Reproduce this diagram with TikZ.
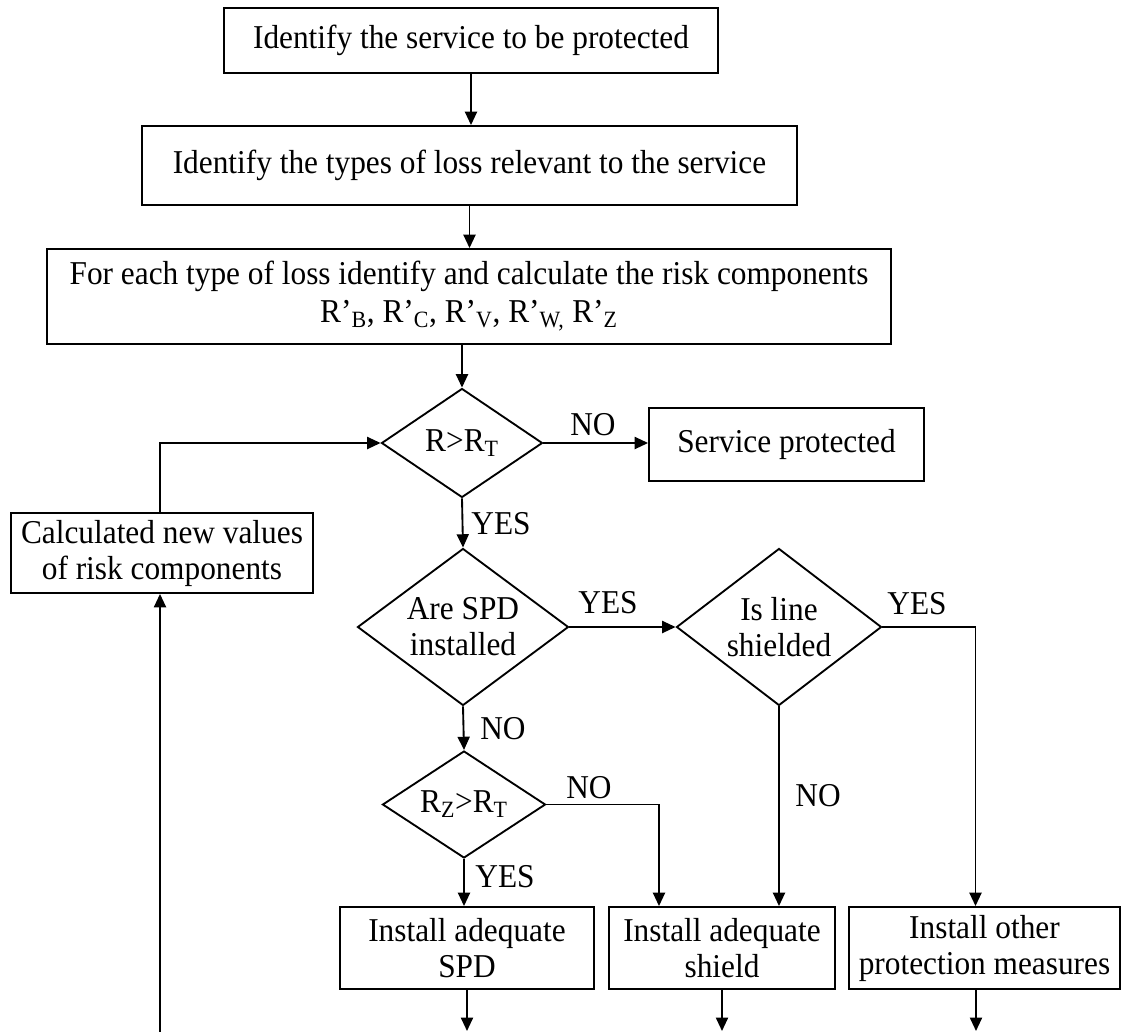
\documentclass[tikz,border=0pt]{standalone}
\usepackage{fontspec}
\setmainfont{Liberation Serif}[FakeStretch=0.94]
\usetikzlibrary{shapes.geometric,arrows.meta,calc}

\def\pxu{0.75pt}

\begin{document}
\begin{tikzpicture}[x=0.75pt,y=-0.75pt,
    every node/.style={font=\fontsize{25}{27}\selectfont},
    box/.style={draw,line width=1.4pt,rectangle,inner sep=0pt,align=center},
    dec/.style={draw,line width=1.4pt,diamond,aspect=1.6,inner sep=0pt,align=center},
    lbl/.style={inner sep=0pt},
    flow/.style={line width=1.4pt,-{Triangle[length=10pt,width=9pt]}}]
                        \useasboundingbox (0,0) rectangle (1122,1032);
                        % boxes
                        \node[box,minimum width=494*\pxu,minimum height=65*\pxu] (srv) at (471,40.5) {Identify the service to be protected};
                        \node[box,minimum width=655*\pxu,minimum height=79*\pxu] (loss) at (469.5,165.5) {Identify the types of loss relevant to the service};
                        \node[box,minimum width=844*\pxu,minimum height=95*\pxu] (comp) at (469,296.5) {For each type of loss identify and calculate the risk components\\[1.5pt]
                          R’\textsubscript{B}, R’\textsubscript{C}, R’\textsubscript{V}, R’\textsubscript{W,} R’\textsubscript{Z}};
                        \node[box,minimum width=275*\pxu,minimum height=73*\pxu] (prot) at (786.5,444.5) {Service protected};
                        \node[box,minimum width=302*\pxu,minimum height=80*\pxu] (calc) at (162,553) {Calculated new values\\of risk components};
                        \node[box,minimum width=254*\pxu,minimum height=82*\pxu] (spd) at (467,948) {Install adequate\\SPD};
                        \node[box,minimum width=226*\pxu,minimum height=82*\pxu] (shd) at (722,948) {Install adequate\\shield};
                        \node[box,minimum width=271*\pxu,minimum height=82*\pxu] (oth) at (984.5,948) {Install other\\protection measures};
                        % decisions
                        \node[dec,minimum width=161*\pxu,minimum height=109*\pxu] (d1) at (462,443) {R>R\textsubscript{T}};
                        \node[dec,minimum width=211*\pxu,minimum height=157*\pxu] (d2) at (463,627) {Are SPD\\installed};
                        \node[dec,minimum width=205*\pxu,minimum height=157*\pxu] (d3) at (779,627) {Is line\\shielded};
                        \node[dec,minimum width=163*\pxu,minimum height=107*\pxu] (d4) at (464,804.5) {R\textsubscript{Z}>R\textsubscript{T}};
                        % answers
                        \node[lbl] (no1) at (593,425) {NO};
                        \node[lbl] (yes1) at (501,524) {YES};
                        \node[lbl] (yes2) at (608,603) {YES};
                        \node[lbl] (yes3) at (917,604) {YES};
                        \node[lbl] (no2) at (503,729) {NO};
                        \node[lbl] (no3) at (589,788) {NO};
                        \node[lbl] (no4) at (818,796) {NO};
                        \node[lbl] (yes4) at (505,877) {YES};
                        % loose ends at the bottom
                        \coordinate (e1) at (467,1031);
                        \coordinate (e2) at (722,1031);
                        \coordinate (e3) at (976,1031);
                        \coordinate (back) at (160,1032);
                        % connectors
                        \draw[flow] (srv.south) -- (srv.south |- loss.north);
                        \draw[flow] (loss.south) -- (loss.south |- comp.north);
                        \draw[flow] (d1.north |- comp.south) -- (d1.north);
                        \draw[flow] (d1.east) -- (d1.east -| prot.west);
                        \draw[flow] (d1.south) -- (d2.north);
                        \draw[flow] (d2.east) -- (d3.west);
                        \draw[flow] (d2.south) -- (d4.north);
                        \draw[flow] (d3.east) -| ($(oth.north)+(-9,0)$);
                        \draw[flow] (d3.south) -- (d3.south |- shd.north);
                        \draw[flow] (d4.east) -| ($(shd.north)+(-63,0)$);
                        \draw[flow] (d4.south) -- (d4.south |- spd.north);
                        \draw[flow] (e1 |- spd.south) -- (e1);
                        \draw[flow] (e2 |- shd.south) -- (e2);
                        \draw[flow] (e3 |- oth.south) -- (e3);
                        \draw[flow] (back) -- (back |- calc.south);
                        \draw[flow] (back |- calc.north) |- (d1.west);
                      \end{tikzpicture}
\end{document}
